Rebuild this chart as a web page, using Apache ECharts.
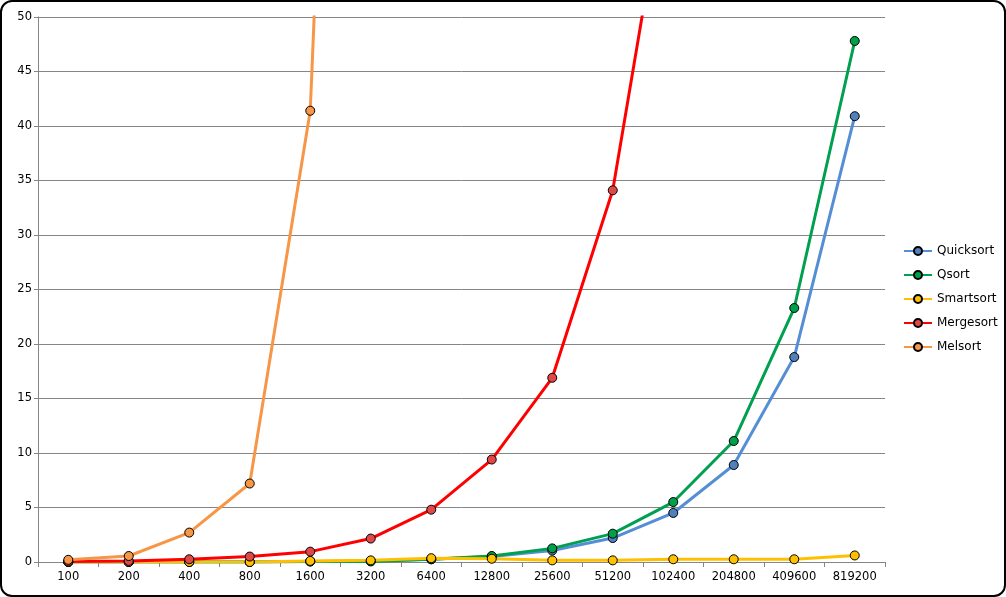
<!DOCTYPE html>
<html>
<head>
<meta charset="utf-8">
<script src="https://cdn.jsdelivr.net/npm/echarts@6/dist/echarts.min.js"></script>
<style>
  html, body { margin: 0; padding: 0; background: #fff; }
  .frame {
    position: absolute; left: 0; top: 0;
    width: 1006px; height: 597px;
    box-sizing: border-box;
    border: 2px solid #000;
    border-radius: 12px;
    overflow: hidden;
  }
  #main { position: absolute; left: -2px; top: -2px; width: 1006px; height: 597px; }
</style>
</head>
<body>
<div class="frame"><div id="main"></div></div>
<script>
const sizes = ["100", "200", "400", "800", "1600", "3200", "6400", "12800", "25600", "51200", "102400", "204800", "409600", "819200"];
const quicksort = [0, 0, 0, 0, 0.05, 0.1, 0.25, 0.5, 1.05, 2.2, 4.5, 8.9, 18.8, 40.9];
const qsort = [0, 0, 0, 0, 0.05, 0.05, 0.25, 0.55, 1.25, 2.6, 5.5, 11.1, 23.3, 47.8];
const smartsort = [0, 0, 0, 0, 0.1, 0.15, 0.35, 0.3, 0.15, 0.15, 0.25, 0.25, 0.25, 0.6];
const mergesort = [0.05, 0.1, 0.25, 0.5, 0.95, 2.15, 4.8, 9.4, 16.9, 34.1, 67];
const melsort = [0.2, 0.55, 2.7, 7.2, 41.4, 175];

const myChart = echarts.init(document.getElementById("main"));

function line(name, data, lineColor, dotColor) {
  return {
    name: name,
    type: "line",
    data: data,
    symbol: "circle",
    symbolSize: 9,
    clip: true,
    lineStyle: { width: 3, color: lineColor },
    itemStyle: { color: dotColor, borderColor: "#000", borderWidth: 1 },
  };
}

myChart.setOption({
  animation: false,
  textStyle: { fontFamily: "DejaVu Sans" },
  legend: {
    orient: "vertical",
    left: 898,
    top: 240,
    itemWidth: 28,
    itemHeight: 10,
    itemGap: 12,
    textStyle: { color: "#000", fontSize: 12 },
    data: ["Quicksort", "Qsort", "Smartsort", "Mergesort", "Melsort"],
  },
  grid: { left: 38, right: 121, top: 17, bottom: 35 },
  xAxis: {
    type: "category",
    data: sizes,
    boundaryGap: true,
    axisLine: { lineStyle: { color: "#868686", width: 1 } },
    axisTick: { show: true, length: 5, lineStyle: { color: "#868686" } },
    axisLabel: { color: "#000", fontSize: 11.5, margin: 9 },
  },
  yAxis: {
    type: "value",
    min: 0,
    max: 50,
    interval: 5,
    axisLine: { show: true, lineStyle: { color: "#868686", width: 1 } },
    axisTick: { show: true, length: 4, lineStyle: { color: "#868686" } },
    axisLabel: { color: "#000", fontSize: 11.5, margin: 6 },
    splitLine: { lineStyle: { color: "#868686", width: 1 } },
  },
  series: [
    line("Quicksort", quicksort, "#558ed5", "#4f81bd"),
    line("Qsort", qsort, "#00a050", "#00a04a"),
    line("Smartsort", smartsort, "#ffc000", "#ffc000"),
    line("Mergesort", mergesort, "#ff0000", "#e04848"),
    line("Melsort", melsort, "#f79646", "#f79646"),
  ],
});
</script>
</body>
</html>
